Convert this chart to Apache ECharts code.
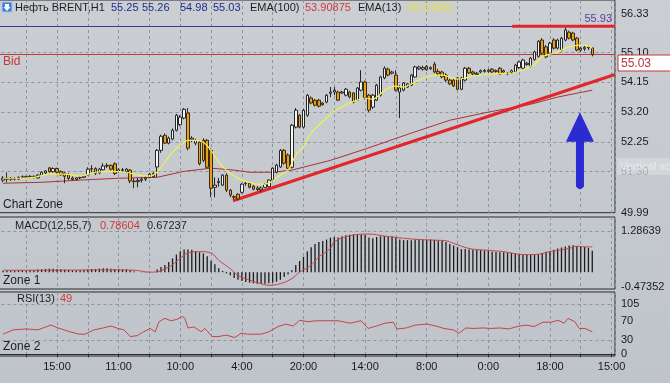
<!DOCTYPE html>
<html><head><meta charset="utf-8">
<script src="https://cdn.jsdelivr.net/npm/echarts@6/dist/echarts.min.js"></script>
<style>html,body{margin:0;padding:0;background:#c5c9cf}#c{width:670px;height:383px}</style>
</head><body><div id="c"></div>
<script>
// ---------- DATA ----------
const firstBar = 2; // index of first candle on the bar axis
const opens = [
51.03,51.09,51.06,51.09,51.06,51.12,51.14,51.12,51.15,51.10,
51.19,51.26,51.42,51.30,51.40,51.30,51.26,51.20,51.10,51.05,
51.10,51.12,51.20,51.40,51.40,51.26,51.36,51.48,51.50,51.55,
51.30,51.34,51.30,51.35,51.00,50.98,51.02,51.06,51.12,51.24,
51.45,51.98,52.46,52.21,52.34,52.62,52.80,53.01,53.17,52.33,
52.21,52.24,52.30,52.30,51.98,50.80,50.95,50.87,51.19,50.71,
50.50,50.58,50.64,50.92,50.93,50.84,50.78,50.72,50.80,50.82,
51.03,51.28,51.45,51.98,51.83,51.44,52.72,53.10,52.72,53.10,
53.65,53.58,53.58,53.49,53.52,53.80,53.84,53.84,53.81,53.74,
53.84,53.81,53.58,53.90,54.16,53.74,53.36,53.58,53.74,54.29,
54.57,54.44,54.38,53.84,53.90,54.00,54.06,54.32,54.58,54.57,
54.66,54.58,54.73,54.50,54.48,54.38,54.22,54.22,54.29,53.93,
54.22,54.60,54.48,54.40,54.48,54.50,54.50,54.57,54.50,54.60,
54.48,54.44,54.46,54.48,54.62,54.60,54.76,54.66,54.88,54.98,
55.50,55.28,55.08,55.50,55.24,55.18,55.50,55.75,55.72,55.56,
55.18,55.22,55.27,55.25];
const closes = [
51.09,51.06,51.09,51.06,51.12,51.14,51.12,51.15,51.12,51.19,
51.28,51.32,51.30,51.40,51.28,51.20,51.15,51.08,51.05,51.10,
51.12,51.16,51.38,51.38,51.25,51.38,51.48,51.50,51.38,51.24,
51.36,51.36,51.38,51.00,50.98,51.02,51.06,51.10,51.22,51.14,
51.98,52.43,52.21,52.37,52.62,53.10,53.04,53.29,52.05,52.37,
52.30,51.55,51.66,51.44,50.77,50.87,50.99,51.19,50.71,50.55,
50.48,50.43,50.90,50.93,50.80,50.74,50.73,50.78,50.90,51.03,
51.41,51.51,51.98,51.57,51.41,52.78,53.26,52.72,53.26,53.74,
53.49,53.42,53.39,53.44,53.74,53.84,53.90,53.58,53.84,53.93,
53.68,53.52,53.97,54.16,53.65,53.26,53.74,54.06,54.32,54.60,
54.38,54.48,53.90,53.97,54.13,54.10,54.38,54.64,54.64,54.62,
54.55,54.62,54.48,54.42,54.32,54.22,54.10,54.03,53.93,54.29,
54.60,54.45,54.42,54.44,54.52,54.53,54.54,54.48,54.52,54.42,
54.52,54.42,54.52,54.70,54.80,54.86,54.72,54.92,55.12,55.46,
55.08,54.96,55.40,55.24,55.50,55.56,55.82,55.56,55.50,55.18,
55.24,55.27,55.25,55.03];
const lows = [
50.96,50.96,51.01,51.02,51.04,51.09,51.08,51.09,51.08,51.08,
51.16,51.22,51.27,51.27,51.22,51.17,50.93,51.03,51.02,51.02,
51.06,51.10,51.18,51.28,51.19,51.22,51.34,51.42,51.33,51.19,
51.26,51.28,51.25,50.93,50.77,50.80,50.95,51.00,51.09,51.10,
51.12,51.90,52.18,52.17,52.30,52.58,52.75,52.97,51.98,52.24,
52.14,51.50,51.60,51.40,50.48,50.48,50.82,50.84,50.65,50.48,
50.42,50.39,50.60,50.85,50.77,50.70,50.68,50.65,50.78,50.80,
51.00,51.25,51.42,51.52,51.38,51.40,52.68,52.68,52.68,53.05,
53.45,53.38,53.35,53.40,53.48,53.68,53.74,53.55,53.78,53.70,
53.64,53.48,53.55,53.86,53.60,53.20,53.30,53.55,53.70,54.25,
54.34,54.40,53.86,53.01,53.86,53.97,54.03,54.30,54.54,54.52,
54.52,54.55,54.44,54.36,54.28,54.16,54.06,54.00,53.90,53.90,
54.18,54.42,54.38,54.36,54.44,54.46,54.46,54.45,54.46,54.38,
54.45,54.38,54.42,54.45,54.58,54.56,54.68,54.62,54.84,54.94,
55.04,54.92,55.05,55.20,55.20,55.14,55.46,55.52,55.46,55.14,
55.12,55.15,55.18,54.98];
const highs = [
51.16,51.28,51.13,51.12,51.15,51.18,51.17,51.19,51.18,51.22,
51.31,51.35,51.45,51.44,51.43,51.34,51.30,51.26,51.15,51.13,
51.16,51.20,51.44,51.51,51.44,51.42,51.57,51.57,51.53,51.60,
51.41,51.42,51.41,51.38,51.09,51.10,51.12,51.16,51.26,51.28,
52.02,52.48,52.52,52.42,52.68,53.14,53.10,53.33,53.33,52.43,
52.35,52.30,52.37,52.34,52.05,51.12,51.10,51.22,51.25,50.75,
50.55,50.61,50.93,51.00,50.96,50.87,50.84,50.83,50.93,51.05,
51.44,51.55,52.02,52.02,51.88,52.82,53.33,53.14,53.30,53.78,
53.70,53.62,53.62,53.52,53.78,54.00,54.00,53.88,53.88,53.97,
53.88,53.84,54.00,54.54,54.20,53.78,53.78,54.10,54.36,54.66,
54.62,54.52,54.54,54.06,54.16,54.13,54.42,54.68,54.68,54.68,
54.70,54.66,54.80,54.58,54.52,54.44,54.26,54.26,54.32,54.32,
54.64,54.64,54.52,54.48,54.56,54.57,54.58,54.60,54.56,54.64,
54.56,54.48,54.56,54.74,54.84,54.90,54.80,54.96,55.16,55.50,
55.56,55.34,55.44,55.56,55.54,55.60,55.90,55.80,55.76,55.60,
55.28,55.34,55.30,55.26];
// EMA(13): [bar, price]
const ema13 = [[2,51.09],[6,51.09],[10,51.12],[14,51.22],[18,51.22],[22,51.16],[26,51.28],[30,51.31],[34,51.28],[37,51.19],
[40,51.16],[42,51.28],[44,51.60],[46,51.92],[48,52.14],[50,52.30],[52,52.30],[54,52.24],[56,51.98],[58,51.60],
[60,51.35],[62,51.16],[64,51.03],[66,50.96],[68,50.90],[70,50.90],[72,51.00],[74,51.19],[76,51.35],[77,51.57],
[78,51.83],[80,52.11],[82,52.53],[84,52.78],[86,53.01],[88,53.23],[90,53.36],[92,53.49],[94,53.58],[96,53.65],
[98,53.61],[100,53.78],[102,53.97],[104,54.03],[106,54.00],[108,54.10],[110,54.22],[112,54.32],[114,54.38],[116,54.38],
[118,54.32],[120,54.25],[122,54.29],[124,54.35],[126,54.38],[128,54.41],[130,54.41],[132,54.44],[134,54.44],[136,54.51],
[138,54.60],[140,54.73],[142,54.96],[144,55.05],[146,55.12],[148,55.24],[150,55.31],[152,55.34],[154,55.31],[155,55.24]];
// EMA(100)
const ema100 = [[2,50.93],[12,50.96],[22,51.03],[32,51.09],[42,51.12],[49,51.31],[56,51.41],[62,51.35],[66,51.28],[72,51.28],
[77,51.35],[87,51.66],[96,52.02],[108,52.53],[118,52.94],[128,53.20],[139,53.45],[146,53.68],[155,53.90]];
// MACD histogram, one value per bar from firstBar
const macdHist = [
0.04,0.05,0.04,0.05,0.05,0.06,0.05,0.06,0.07,0.08,
0.09,0.10,0.11,0.11,0.10,0.09,0.08,0.07,0.06,0.06,
0.06,0.07,0.09,0.10,0.10,0.11,0.12,0.12,0.11,0.10,
0.10,0.09,0.09,0.06,0.02,0.00,-0.01,-0.01,0.00,0.00,
0.08,0.16,0.22,0.32,0.43,0.55,0.65,0.71,0.71,0.70,
0.66,0.62,0.58,0.50,0.36,0.25,0.12,0.04,-0.04,-0.10,
-0.18,-0.24,-0.28,-0.31,-0.33,-0.35,-0.36,-0.36,-0.36,-0.35,
-0.33,-0.30,-0.24,-0.15,-0.07,0.06,0.22,0.35,0.48,0.65,
0.78,0.88,0.94,0.97,1.02,1.08,1.10,1.08,1.12,1.15,
1.17,1.18,1.18,1.18,1.17,1.08,1.06,1.10,1.12,1.13,
1.12,1.12,1.10,1.02,1.00,1.00,1.00,1.02,1.02,1.02,
1.01,1.02,1.01,1.00,0.98,0.94,0.88,0.83,0.78,0.72,
0.72,0.71,0.70,0.70,0.69,0.68,0.66,0.64,0.63,0.62,
0.62,0.61,0.60,0.58,0.56,0.55,0.55,0.55,0.55,0.56,
0.60,0.64,0.66,0.70,0.74,0.77,0.80,0.83,0.84,0.82,
0.80,0.79,0.76,0.67];
const macdSignal = [[2,0.06],[14,0.06],[27,0.07],[36,0.06],[39,0.01],[41,0.00],[45,0.16],[48,0.43],[50,0.60],[53,0.64],
[56,0.60],[58,0.37],[61,0.11],[63,-0.10],[66,-0.25],[69,-0.36],[71,-0.41],[74,-0.36],[77,-0.20],[79,0.00],
[82,0.22],[84,0.48],[87,0.74],[88,0.95],[93,1.16],[97,1.19],[101,1.13],[106,1.06],[110,1.02],[114,1.00],
[117,0.98],[119,0.90],[123,0.74],[127,0.69],[132,0.64],[137,0.55],[140,0.55],[144,0.64],[149,0.74],[151,0.81],
[153,0.79],[155,0.79]];
const rsi = [[2,42],[4.6,51],[8,53],[11,51],[13.4,58],[14.4,61],[16.3,55],[17.8,51],[19.4,47],[21.7,42],
[23.3,42],[25.6,51],[28,55],[30,59],[31.8,54],[33.4,51],[35,37],[36.8,39],[38.3,46],[40.2,54],
[41.5,47],[42.5,68],[44,75],[45.6,70],[47.2,73],[48.5,79],[49.2,75],[50,55],[51.6,57],[53.4,47],
[54.4,54],[56.3,37],[57.8,37],[60,40],[62.2,35],[63.8,44],[65.6,42],[69,42],[71,47],[73.4,58],
[75.5,63],[77.3,59],[79,71],[81.2,68],[83.3,70],[85.6,70],[89,70],[92.1,65],[95,70],[96.8,54],
[98.9,59],[101.2,65],[103.3,67],[104.3,53],[106.7,55],[109,61],[112.1,63],[114.4,59],[116.5,54],[118.9,51],
[120.4,44],[122.2,55],[124.3,54],[126.6,55],[128.7,54],[131,55],[133.4,53],[135.5,58],[137.8,61],[139.9,58],
[142.2,67],[144.3,67],[146.1,71],[147.7,65],[148.7,75],[150.5,68],[151.6,54],[153.1,54],[155,47]];
const trendLine = [[61.7,50.37],[160.9,54.40]];
const resistanceLine = [[134.2,55.94],[160.9,55.94]];
const askPrice = 55.93;
const bidPrice = 55.03;
const arrowAt = [151.8, 51.97];
const timeLabels = ['', '15:00', '11:00', '10:00', '4:00', '20:00', '14:00', '8:00', '0:00', '18:00', '15:00'];
const priceTicks = [56.33, 55.10, 54.15, 53.20, 52.25, 51.30, 49.99];
const priceGrid = [55.10, 54.15, 53.20, 52.25, 51.30];
const macdTicks = [1.28639, -0.47352];
const rsiTicks = [105, 70, 30, 0];
const rsiGrid = [105, 30];
const header = {o:'55.25', h:'55.26', l:'54.98', c:'55.03', ema100:'53.90875', ema13:'55.24381',
  macd1:'0.78604', macd2:'0.67237', rsi:'49'};

// ---------- CHART ----------
const FONT = '"Liberation Sans", Arial, sans-serif';
const chart = echarts.init(document.getElementById('c'), null, {renderer:'canvas'});
const candleData = opens.map((o,k)=>[firstBar+k, o, closes[k], lows[k], highs[k]]);
const histData = macdHist.map((v,k)=>[firstBar+k, v]);
const XMAX = 160.9;
const gridLine = {show:true, lineStyle:{color:'#8c95a0', type:[3,3], width:1}};
function xAx(idx, showLab){
  return {gridIndex:idx, type:'value', min:0, max:XMAX, interval:8,
    axisLine:{show:showLab, lineStyle:{color:'#2a2a2a'}},
    axisTick:{show:showLab, length:3, lineStyle:{color:'#2a2a2a'}},
    axisLabel:{show:showLab, color:'#1a1a1a', fontSize:11, fontFamily:FONT, margin:5,
      showMinLabel:false, showMaxLabel:false,
      formatter:v=> (Math.abs(v%16)<1e-6 ? (timeLabels[Math.round(v/16)]||'') : '')},
    splitLine:gridLine};
}
function yAx(idx, min, max, ticks, dec){
  return {gridIndex:idx, type:'value', position:'right', min:min, max:max,
    axisLine:{show:true, lineStyle:{color:'#2a2a2a'}},
    axisTick:{show:true, customValues:ticks, length:4, lineStyle:{color:'#2a2a2a'}},
    axisLabel:{customValues:ticks, color:'#1a1a1a', fontSize:11, fontFamily:FONT, margin:6,
      formatter:v=>v.toFixed(dec)},
    splitLine:{show:false}};
}
function hLines(vals){
  return {silent:true, symbol:['none','none'], z:1, animation:false, label:{show:false},
    lineStyle:{color:'#8c95a0', type:[3,3], width:1}, data:vals.map(v=>({yAxis:v}))};
}
function txt(x,y,t,color,size){
  return {type:'text', x:x, y:y, silent:true, z:100,
    style:{text:t, fill:color, font:(size||11)+'px '+FONT, verticalAlign:'middle'}};
}
const DARK='#1e1e1e', BLUE='#1e2d8c', RED='#d0393b', YEL='#e4e43a';
const gridBase = {left:-4.6, right:55, show:true, borderColor:'#2b2b2b', borderWidth:1,
  backgroundColor:'transparent', containLabel:false, outerBoundsMode:'none'};
const option = {
  animation:false,
  backgroundColor:{type:'linear', x:0, y:0, x2:0, y2:1, colorStops:[{offset:0,color:'#cbcfd4'},{offset:1,color:'#bfc4ca'}]},
  grid:[
    Object.assign({top:0, height:212.7}, gridBase),
    Object.assign({top:217, height:72}, gridBase),
    Object.assign({top:292, height:64}, gridBase)
  ],
  xAxis:[xAx(0,false), xAx(1,false), xAx(2,true)],
  yAxis:[yAx(0,49.99,56.777,priceTicks,2), yAx(1,-0.5267,1.724,macdTicks,5), yAx(2,-3.5,130,rsiTicks,0)],
  series:[
    {type:'line', xAxisIndex:0, yAxisIndex:0, data:[], markLine:hLines(priceGrid)},
    {type:'line', xAxisIndex:0, yAxisIndex:0, data:ema100, symbol:'none', z:2,
      lineStyle:{color:'#a8323a', width:1},
      markLine:{silent:true, symbol:['none','none'], z:3, animation:false,
        data:[
          {yAxis:askPrice, lineStyle:{color:'#5c2d91', width:1, type:'solid'},
            label:{show:true, position:'insideEndTop', formatter:askPrice.toFixed(2), color:'#5a3c9c', fontSize:11, fontFamily:FONT, distance:[3,2]}},
          {yAxis:bidPrice, lineStyle:{color:'#c0393b', width:1, type:'solid'}, label:{show:false}}
        ]}},
    {type:'line', xAxisIndex:0, yAxisIndex:0, data:trendLine, symbol:'none', z:3,
      lineStyle:{color:'#e3262b', width:3}},
    {type:'line', xAxisIndex:0, yAxisIndex:0, data:resistanceLine, symbol:'none', z:3,
      lineStyle:{color:'#e3262b', width:3}},
    {type:'candlestick', xAxisIndex:0, yAxisIndex:0, data:candleData, barWidth:3, z:4,
      itemStyle:{color:'#f6f6f6', color0:'#e8a020', borderColor:'#262626', borderColor0:'#3a2c10', borderWidth:1},
      markPoint:{silent:true, animation:false, label:{show:false},
        data:[{coord:arrowAt, symbol:'path://M14 0 L28 29 L18 29 L18 73 Q14 78 10 73 L10 29 L0 29 Z',
          symbolSize:[28,77], itemStyle:{color:'#2b2bd2'}}]}},
    {type:'line', xAxisIndex:0, yAxisIndex:0, data:ema13, symbol:'none', z:5, smooth:0.3,
      lineStyle:{color:'#f2f24a', width:1.2}},
    {type:'bar', xAxisIndex:1, yAxisIndex:1, data:histData, barWidth:1.3, z:2,
      itemStyle:{color:'#1c1c1c'}, markLine:hLines([1.28639])},
    {type:'line', xAxisIndex:1, yAxisIndex:1, data:macdSignal, symbol:'none', smooth:0.4, z:3,
      lineStyle:{color:'#c0454a', width:1}},
    {type:'line', xAxisIndex:2, yAxisIndex:2, data:rsi, symbol:'none', z:3,
      lineStyle:{color:'#c0454a', width:1}, markLine:hLines(rsiGrid)}
  ],
  graphic:[
    {type:'rect', x:2, y:2, shape:{x:0,y:0,width:10,height:10}, style:{fill:'#3b82d6', stroke:'#a9c8ee', lineWidth:1}, z:100},
    {type:'polygon', x:0, y:0, shape:{points:[[5,4],[9,4],[9,7],[10.5,7],[7,11],[3.5,7],[5,7]]}, style:{fill:'#ffffff'}, z:101},
    txt(15,8,'Нефть BRENT,H1',DARK,11),
    txt(111,8,header.o,BLUE,11), txt(142,8,header.h,BLUE,11), txt(180,8,header.l,BLUE,11), txt(213,8,header.c,BLUE,11),
    txt(250,8,'EMA(100)',DARK,11), txt(305,8,header.ema100,RED,11),
    txt(358,8,'EMA(13)',DARK,11), txt(408,8,header.ema13,YEL,11),
    txt(3,62,'Bid','#c0393b',12),
    txt(3,205,'Chart Zone',DARK,12),
    txt(15,226,'MACD(12,55,7)',DARK,11), txt(100,226,header.macd1,RED,11), txt(147,226,header.macd2,DARK,11),
    txt(3,281,'Zone 1',DARK,12),
    txt(17,299,'RSI(13)',DARK,11), txt(60,299,header.rsi,RED,11),
    txt(3,347,'Zone 2',DARK,12),
    {type:'rect', x:618, y:55, shape:{x:0,y:0,width:54,height:16}, style:{fill:'#ffffff', stroke:'#c0393b', lineWidth:1}, z:100},
    txt(621,63.5,bidPrice.toFixed(2),'#b8353a',12),
    {type:'rect', x:617, y:158, shape:{x:0,y:0,width:55,height:17}, style:{fill:'rgba(214,217,222,0.75)'}, z:99},
    txt(620,166.5,'Vertical sc','#e9eaec',11)
  ]
};
chart.setOption(option);
</script></body></html>
